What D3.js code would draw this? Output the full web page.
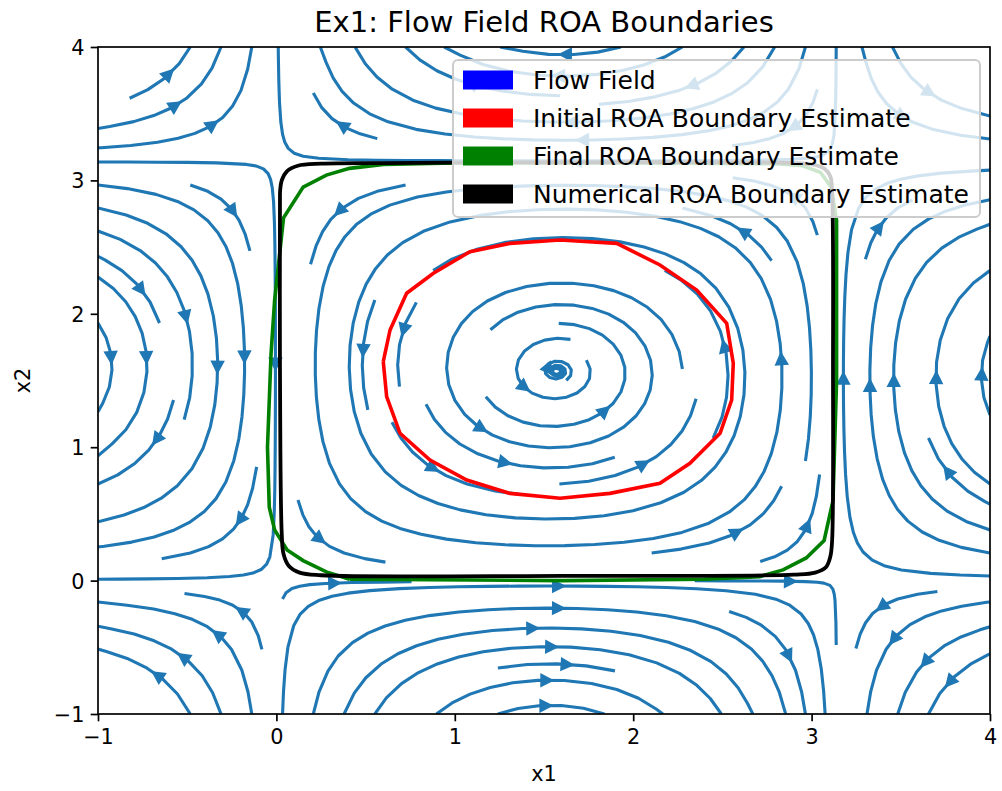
<!DOCTYPE html>
<html>
<head>
<meta charset="utf-8">
<script src="https://cdn.jsdelivr.net/npm/d3@7"></script>
<style>
  body { margin: 0; background: #fff; }
  svg { display: block; }
  text { font-family: "DejaVu Sans", sans-serif; fill: #000; }
</style>
</head>
<body>
<svg id="chart" width="1002" height="791"></svg>
<script>
// ---- data ----
const xDomain = [-1, 4];
const yDomain = [-1, 4];
const xTicks = [-1, 0, 1, 2, 3, 4];
const yTicks = [-1, 0, 1, 2, 3, 4];

// flow field: x1' = sin x1 cos x2 + k sin x1 cos x1, x2' = -cos x1 sin x2 + k sin x2 cos x2
const damping = 0.05;
const gridN = 100;
const density = 1;

const initialRoaBoundary = [
  [0.599, 1.641], [0.637, 1.879], [0.730, 2.154], [0.880, 2.304], [1.085, 2.466],
  [1.309, 2.528], [1.590, 2.553], [1.908, 2.528], [2.150, 2.366], [2.356, 2.178],
  [2.524, 1.929], [2.561, 1.629], [2.552, 1.354], [2.487, 1.104], [2.318, 0.879],
  [2.150, 0.729], [1.870, 0.654], [1.590, 0.617], [1.309, 0.654], [1.067, 0.754],
  [0.861, 0.904], [0.693, 1.104], [0.618, 1.379], [0.599, 1.641]
];

const finalRoaBoundary = [
  [0.41, 0.01], [0.28, 0.065], [0.15, 0.15], [0.06, 0.23], [-0.01, 0.38], [-0.04, 0.55],
  [-0.05, 1.0], [-0.03, 1.7], [-0.01, 2.1], [0.04, 2.72], [0.15, 2.95], [0.28, 3.04],
  [0.41, 3.09], [0.6, 3.12], [1.0, 3.13], [2.0, 3.13], [2.8, 3.125], [2.95, 3.11],
  [3.05, 3.06], [3.11, 2.95], [3.14, 2.7], [3.14, 1.5], [3.12, 0.6], [3.07, 0.30],
  [2.97, 0.17], [2.84, 0.08], [2.71, 0.03], [2.4, 0.01], [1.6, 0.0], [0.41, 0.01]
];

const numericalRoaBoundary = [
  [0.02, 2.90], [0.03, 3.00], [0.06, 3.07], [0.12, 3.11], [0.25, 3.125], [0.6, 3.13],
  [2.9, 3.13], [3.0, 3.12], [3.07, 3.09], [3.105, 3.03], [3.115, 2.9], [3.12, 1.6],
  [3.115, 0.3], [3.105, 0.18], [3.08, 0.10], [3.02, 0.06], [2.9, 0.045], [1.6, 0.035],
  [0.25, 0.04], [0.13, 0.06], [0.07, 0.11], [0.04, 0.2], [0.03, 0.35], [0.02, 1.6],
  [0.02, 2.90]
];

const legendLabels = ["Flow Field", "Initial ROA Boundary Estimate", "Final ROA Boundary Estimate", "Numerical ROA Boundary Estimate"];
const legendColors = ["#0000ff", "#ff0000", "#008000", "#000000"];

// ---- layout ----
const margin = { left: 98, right: 990, top: 47, bottom: 714 };
const svg = d3.select("#chart");
const x = d3.scaleLinear().domain(xDomain).range([margin.left, margin.right]);
const y = d3.scaleLinear().domain(yDomain).range([margin.bottom, margin.top]);
const streamColor = "#1f77b4";
const lw = 3.1;

function field(a, b) {
  return [
    Math.sin(a) * Math.cos(b) + damping * Math.sin(a) * Math.cos(a),
    -Math.cos(a) * Math.sin(b) + damping * Math.sin(b) * Math.cos(b)
  ];
}

// ---- streamplot (same scheme as matplotlib) ----
function streamplot() {
  const nx = gridN, ny = gridN;
  const dxg = (xDomain[1] - xDomain[0]) / (nx - 1);
  const dyg = (yDomain[1] - yDomain[0]) / (ny - 1);
  const U = [], V = [], S = [];
  for (let j = 0; j < ny; j++) {
    U.push([]); V.push([]); S.push([]);
    for (let i = 0; i < nx; i++) {
      const f = field(xDomain[0] + i * dxg, yDomain[0] + j * dyg);
      const ug = f[0] * (1 / dxg), vg = f[1] * (1 / dyg);
      U[j].push(ug); V[j].push(vg);
      S[j].push(Math.sqrt((ug / (nx - 1)) ** 2 + (vg / (ny - 1)) ** 2));
    }
  }
  const mx = Math.floor(30 * density), my = Math.floor(30 * density);
  const mask = new Uint8Array(mx * my);
  const gx2m = (mx - 1) / (nx - 1), gy2m = (my - 1) / (ny - 1);
  const m2gx = 1 / gx2m, m2gy = 1 / gy2m;
  let current = null, traj = [];
  const OOB = { t: "oob" }, TERM = { t: "term" };
  const minlength = 0.1, maxlength = 4.0;

  function pyRound(v) {
    const f = Math.floor(v), d = v - f;
    if (d > 0.5) return f + 1;
    if (d < 0.5) return f;
    return f % 2 === 0 ? f : f + 1;
  }
  function within(xi, yi) { return xi >= 0 && xi <= nx - 1 && yi >= 0 && yi <= ny - 1; }
  function interp(a, xi, yi) {
    const xa = Math.trunc(xi), ya = Math.trunc(yi);
    const xn = xa === nx - 1 ? xa : xa + 1;
    const yn = ya === ny - 1 ? ya : ya + 1;
    const xt = xi - xa, yt = yi - ya;
    const a0 = a[ya][xa] * (1 - xt) + a[ya][xn] * xt;
    const a1 = a[yn][xa] * (1 - xt) + a[yn][xn] * xt;
    return a0 * (1 - yt) + a1 * yt;
  }
  function updateTraj(xm, ym) {
    if (current === null || current[0] !== xm || current[1] !== ym) {
      if (mask[ym * mx + xm] === 0) {
        traj.push(ym * mx + xm);
        mask[ym * mx + xm] = 1;
        current = [xm, ym];
      } else return false;
    }
    return true;
  }
  function fwd(xi, yi) {
    if (!within(xi, yi)) throw OOB;
    const s = interp(S, xi, yi);
    if (s === 0) throw TERM;
    const dt = 1 / s;
    return [interp(U, xi, yi) * dt, interp(V, xi, yi) * dt];
  }
  function bwd(xi, yi) { const d = fwd(xi, yi); return [-d[0], -d[1]]; }
  function euler(out, f) {
    const p = out[out.length - 1];
    const c = f(p[0], p[1]);
    const dsx = c[0] === 0 ? Infinity : c[0] < 0 ? p[0] / -c[0] : (nx - 1 - p[0]) / c[0];
    const dsy = c[1] === 0 ? Infinity : c[1] < 0 ? p[1] / -c[1] : (ny - 1 - p[1]) / c[1];
    const ds = Math.min(dsx, dsy);
    out.push([p[0] + c[0] * ds, p[1] + c[1] * ds]);
    return ds;
  }
  function rk12(x0, y0, f) {
    const maxerror = 0.003, maxds = Math.min(1 / mx, 1 / my, 0.1);
    let ds = maxds, stotal = 0, xi = x0, yi = y0;
    const out = [];
    while (true) {
      let k1, k2;
      try {
        if (within(xi, yi)) out.push([xi, yi]); else throw OOB;
        k1 = f(xi, yi);
        k2 = f(xi + ds * k1[0], yi + ds * k1[1]);
      } catch (e) {
        if (e === OOB && out.length) {
          try { stotal += euler(out, f); } catch (e2) { }
        }
        break;
      }
      const dx1 = ds * k1[0], dy1 = ds * k1[1];
      const dx2 = ds * 0.5 * (k1[0] + k2[0]), dy2 = ds * 0.5 * (k1[1] + k2[1]);
      const error = Math.hypot((dx2 - dx1) / (nx - 1), (dy2 - dy1) / (ny - 1));
      if (error < maxerror) {
        xi += dx2; yi += dy2;
        if (!within(xi, yi)) break;
        if (!updateTraj(pyRound(xi * gx2m), pyRound(yi * gy2m))) break;
        if (stotal + ds > maxlength) break;
        stotal += ds;
      }
      ds = error === 0 ? maxds : Math.min(maxds, 0.85 * ds * Math.sqrt(maxerror / error));
    }
    return [stotal, out];
  }
  function integrate(x0, y0) {
    traj = [];
    const sm = [pyRound(x0 * gx2m), pyRound(y0 * gy2m)];
    if (!updateTraj(sm[0], sm[1])) return null;
    let stotal = 0;
    let r = rk12(x0, y0, bwd);
    stotal += r[0];
    let pts = r[1].slice().reverse();
    current = sm;
    r = rk12(x0, y0, fwd);
    stotal += r[0];
    pts = pts.concat(r[1].slice(1));
    if (stotal > minlength) return pts;
    traj.forEach(k => { mask[k] = 0; });
    return null;
  }

  // spiral of starting points from the border inward
  const lines = [];
  let xfirst = 0, yfirst = 1, xlast = mx - 1, ylast = my - 1, cx = 0, cy = 0, dir = "right";
  for (let i = 0; i < mx * my; i++) {
    if (mask[cy * mx + cx] === 0) {
      const t = integrate(cx * m2gx, cy * m2gy);
      if (t) lines.push(t.map(p => [p[0] * dxg + xDomain[0], p[1] * dyg + yDomain[0]]));
    }
    if (dir === "right") { cx += 1; if (cx >= xlast) { xlast -= 1; dir = "up"; } }
    else if (dir === "up") { cy += 1; if (cy >= ylast) { ylast -= 1; dir = "left"; } }
    else if (dir === "left") { cx -= 1; if (cx <= xfirst) { xfirst += 1; dir = "down"; } }
    else { cy -= 1; if (cy <= yfirst) { yfirst += 1; dir = "right"; } }
  }
  return lines;
}

const streamlines = streamplot();

// ---- drawing ----
svg.append("defs").append("clipPath").attr("id", "plotClip")
  .append("rect")
  .attr("x", margin.left).attr("y", margin.top)
  .attr("width", margin.right - margin.left).attr("height", margin.bottom - margin.top);

const plot = svg.append("g").attr("clip-path", "url(#plotClip)");
const line = d3.line().x(d => x(d[0])).y(d => y(d[1]));

plot.selectAll(".stream")
  .data(streamlines)
  .enter()
  .append("path")
  .attr("class", "stream")
  .attr("d", line)
  .attr("fill", "none")
  .attr("stroke", streamColor)
  .attr("stroke-width", lw)
  .attr("stroke-linejoin", "round");

// arrows halfway along each streamline
streamlines.forEach(function (t) {
  const s = [];
  let acc = 0;
  for (let i = 1; i < t.length; i++) {
    acc += Math.hypot(t[i][0] - t[i - 1][0], t[i][1] - t[i - 1][1]);
    s.push(acc);
  }
  const half = s[s.length - 1] / 2;
  let n = s.findIndex(v => v >= half);
  if (n < 0) n = s.length - 1;
  const tail = t[n];
  const nxt = t[Math.min(n + 1, t.length - 1)];
  const head = [(tail[0] + nxt[0]) / 2, (tail[1] + nxt[1]) / 2];
  const px0 = x(tail[0]), py0 = y(tail[1]), px1 = x(head[0]), py1 = y(head[1]);
  const d = Math.hypot(px1 - px0, py1 - py0);
  if (d === 0) return;
  const ux = (px1 - px0) / d, uy = (py1 - py0) / d;
  const hl = 9.2, hw = 4.7;
  const bx = px1 - ux * hl, by = py1 - uy * hl;
  const tri = [[px1, py1], [bx - uy * hw, by + ux * hw], [bx + uy * hw, by - ux * hw]];
  plot.append("path")
    .attr("d", "M" + tri.map(p => p.join(",")).join("L") + "Z")
    .attr("fill", streamColor)
    .attr("stroke", streamColor)
    .attr("stroke-width", lw)
    .attr("stroke-linejoin", "miter");
});

plot.append("path").datum(initialRoaBoundary)
  .attr("d", line).attr("fill", "none").attr("stroke", "#ff0000").attr("stroke-width", 3.6);
plot.append("path").datum(finalRoaBoundary)
  .attr("d", line).attr("fill", "none").attr("stroke", "#008000").attr("stroke-width", 3.6);
plot.append("path").datum(numericalRoaBoundary)
  .attr("d", line.curve(d3.curveCatmullRom.alpha(0.5))).attr("fill", "none").attr("stroke", "#000000").attr("stroke-width", 3.8);

// axes
const xAxis = d3.axisBottom(x).tickValues(xTicks).tickSize(7.3).tickPadding(6).tickFormat(d3.format("d"));
const yAxis = d3.axisLeft(y).tickValues(yTicks).tickSize(7.3).tickPadding(6).tickFormat(d3.format("d"));

const gx = svg.append("g").attr("transform", "translate(0," + margin.bottom + ")").call(xAxis);
const gy = svg.append("g").attr("transform", "translate(" + margin.left + ",0)").call(yAxis);
[gx, gy].forEach(function (g) {
  g.select(".domain").remove();
  g.selectAll(".tick line").attr("stroke", "#000").attr("stroke-width", 1.7);
  g.selectAll(".tick text").attr("fill", "#000").style("font-size", "20.8px")
    .style("font-family", '"DejaVu Sans", sans-serif');
});
gx.selectAll(".tick text").attr("dy", null).attr("y", 29.5);
gy.selectAll(".tick text").attr("dy", "0.36em").attr("x", -13.5);

svg.append("rect")
  .attr("x", margin.left).attr("y", margin.top)
  .attr("width", margin.right - margin.left).attr("height", margin.bottom - margin.top)
  .attr("fill", "none").attr("stroke", "#000").attr("stroke-width", 1.7);

// titles
svg.append("text").attr("x", (margin.left + margin.right) / 2).attr("y", 32)
  .attr("text-anchor", "middle").style("font-size", "29px")
  .text("Ex1: Flow Field ROA Boundaries");
svg.append("text").attr("x", (margin.left + margin.right) / 2).attr("y", 781)
  .attr("text-anchor", "middle").style("font-size", "20.8px").text("x1");
svg.append("text").attr("transform", "translate(29.5," + (margin.top + margin.bottom) / 2 + ") rotate(-90)")
  .attr("text-anchor", "middle").style("font-size", "20.8px").text("x2");

// legend
const legend = svg.append("g");
legend.append("rect")
  .attr("x", 453).attr("y", 60).attr("width", 527).attr("height", 157)
  .attr("rx", 5).attr("ry", 5)
  .attr("fill", "#fff").attr("fill-opacity", 0.8)
  .attr("stroke", "#cccccc").attr("stroke-width", 2);
legendLabels.forEach(function (label, i) {
  const cy = 80 + i * 38;
  legend.append("rect").attr("x", 463).attr("y", cy - 9.5).attr("width", 50).attr("height", 19)
    .attr("fill", legendColors[i]);
  legend.append("text").attr("x", 533).attr("y", cy + 9).style("font-size", "25px").text(label);
});
</script>
</body>
</html>
